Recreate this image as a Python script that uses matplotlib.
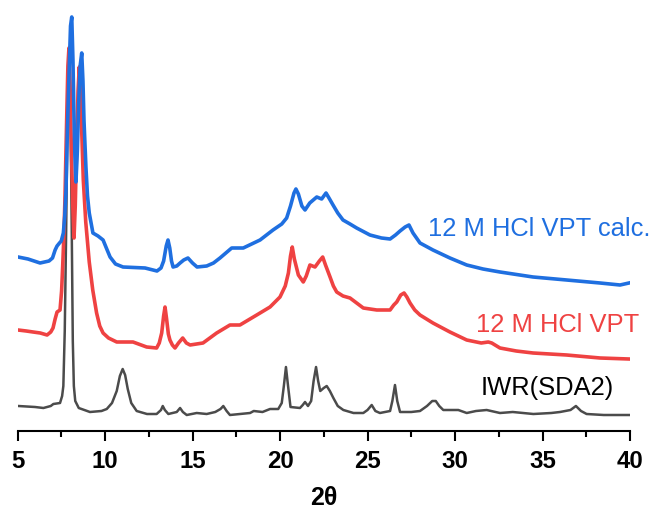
import matplotlib
matplotlib.use("Agg")
import matplotlib.pyplot as plt
from matplotlib.ticker import MultipleLocator

plt.rcParams['font.family'] = ['Liberation Sans', 'DejaVu Sans']

# Stacked XRD patterns (2-theta in degrees, offset intensity in arbitrary units)
calc_2theta = [5.03, 5.6, 6.29, 6.8, 7.0, 7.15, 7.26, 7.4, 7.5, 7.62, 7.7, 7.77, 7.85, 7.95,
               8.03, 8.1, 8.17, 8.22, 8.28, 8.34, 8.42, 8.5, 8.58, 8.67, 8.74, 8.8, 8.91,
               9.0, 9.1, 9.31, 9.6, 9.89, 10.1, 10.29, 10.6, 11.03, 12.29, 12.97, 13.2,
               13.35, 13.5, 13.6, 13.7, 13.8, 13.89, 14.1, 14.29, 14.5, 14.74, 15.0, 15.26,
               15.81, 16.2, 16.57, 17.24, 17.9, 18.86, 19.6, 20.1, 20.38, 20.6, 20.8, 20.91,
               21.05, 21.25, 21.43, 21.7, 22.1, 22.38, 22.63, 22.8, 23.03, 23.3, 23.6, 24.0,
               24.38, 25.14, 25.8, 26.29, 26.6, 26.86, 27.15, 27.37, 27.6, 28.0, 28.74,
               29.71, 30.67, 31.6, 32.57, 34.46, 36.38, 38.29, 39.43, 39.94]
calc_int = [174, 172, 168, 170, 173, 181, 185, 188, 190, 198, 215, 240, 300, 360,
            405, 414, 370, 321, 275, 249, 280, 330, 365, 378, 350, 310, 264,
            235, 218, 198, 195, 191, 182, 174, 167, 164, 163, 160, 163,
            170, 185, 191, 183, 170, 164, 165, 168, 171, 173, 168, 164,
            165, 168, 173, 183, 183, 191, 201, 207, 213, 225, 238, 242,
            237, 225, 221, 228, 234, 232, 238, 233, 226, 218, 211, 207,
            203, 196, 193, 192, 196, 200, 204, 206, 198, 188, 181,
            173, 166, 162, 159, 154, 151, 148, 146, 148]

vpt_2theta = [5.03, 5.5, 5.89, 6.3, 6.69, 6.9, 7.03, 7.15, 7.26, 7.43, 7.52, 7.58, 7.65,
              7.71, 7.77, 7.82, 7.88, 7.94, 8.0, 8.08, 8.16, 8.23, 8.3, 8.38, 8.46, 8.53,
              8.6, 8.65, 8.76, 8.9, 9.1, 9.3, 9.52, 9.7, 9.89, 10.2, 10.67, 11.6, 12.38,
              12.95, 13.1, 13.24, 13.35, 13.43, 13.52, 13.62, 13.71, 13.85, 14.0, 14.2,
              14.44, 14.65, 14.86, 15.6, 16.38, 17.14, 17.71, 18.67, 19.43, 20.0, 20.3,
              20.48, 20.6, 20.7, 20.82, 21.05, 21.33, 21.5, 21.71, 22.0, 22.25, 22.44,
              22.6, 22.86, 23.05, 23.24, 23.6, 24.0, 24.76, 25.53, 26.29, 26.5, 26.67,
              26.9, 27.09, 27.25, 27.43, 27.7, 28.0, 28.74, 29.71, 30.67, 31.5, 31.9,
              32.1, 32.57, 33.5, 34.46, 36.38, 38.29, 39.94]
vpt_int = [101, 100, 99, 98, 96, 99, 103, 112, 119, 121, 140, 164, 195,
           231, 280, 320, 365, 383, 350, 281, 225, 193, 225, 285, 340, 364,
           345, 311, 251, 209, 169, 141, 118, 105, 98, 93, 89, 89, 84,
           83, 88, 98, 115, 124, 112, 97, 91, 86, 83, 88,
           93, 88, 86, 88, 98, 106, 106, 116, 124, 134, 145,
           158, 175, 184, 172, 156, 149, 155, 166, 164, 170, 174,
           166, 154, 145, 139, 135, 133, 123, 121, 121, 126, 129,
           136, 138, 134, 128, 121, 116, 108, 99, 91, 88, 89,
           88, 83, 80, 78, 76, 73, 72]

iwr_2theta = [5.05, 6.0, 6.48, 6.9, 7.05, 7.43, 7.55, 7.62, 7.7, 7.78, 7.86, 7.95, 8.03,
              8.1, 8.16, 8.22, 8.3, 8.5, 9.14, 9.8, 10.1, 10.4, 10.67, 10.85, 11.01,
              11.15, 11.3, 11.5, 11.81, 12.4, 12.95, 13.2, 13.3, 13.42, 13.62, 14.1,
              14.29, 14.45, 14.67, 15.24, 15.81, 16.3, 16.6, 16.76, 16.95, 17.14, 18.29,
              18.5, 19.0, 19.43, 19.9, 20.1, 20.22, 20.34, 20.46, 20.6, 21.14, 21.3,
              21.43, 21.6, 21.78, 21.92, 22.06, 22.18, 22.3, 22.5, 22.67, 22.85, 23.05,
              23.3, 23.62, 24.2, 24.76, 25.0, 25.24, 25.45, 25.71, 26.29, 26.42, 26.57,
              26.7, 26.86, 27.5, 28.0, 28.4, 28.7, 28.9, 29.1, 29.33, 30.19, 30.67,
              31.2, 31.81, 32.57, 33.3, 34.48, 35.5, 36.0, 36.6, 36.91, 37.2, 37.52,
              38.5, 39.96]
iwr_int = [25, 24, 23, 25, 27, 28, 35, 45, 100, 200, 320, 376, 320,
           200, 90, 45, 30, 23, 19, 20, 22, 28, 40, 55, 62,
           56, 42, 28, 20, 17, 17, 21, 25, 21, 17, 19,
           23, 19, 16, 18, 17, 19, 22, 25, 20, 16, 18,
           20, 19, 22, 22, 28, 45, 64, 45, 24, 23, 26,
           29, 25, 30, 50, 64, 50, 40, 43, 45, 40, 33,
           25, 21, 18, 18, 21, 26, 20, 18, 20, 30, 46,
           30, 19, 19, 20, 25, 30, 30, 25, 21, 21, 18,
           20, 21, 18, 19, 17, 18, 19, 21, 25, 20, 17,
           16, 16]

x_ticks = [5, 10, 15, 20, 25, 30, 35, 40]

blue = '#1f6fe0'
red = '#ef4242'
grey = '#4b4b4b'

fig = plt.figure(figsize=(6.51, 5.18), dpi=100)
ax = fig.add_axes([17.5 / 651, 87 / 518, (630 - 17.5) / 651, 431 / 518])

ax.plot(iwr_2theta, iwr_int, color=grey, lw=1.8, solid_joinstyle='round')
ax.plot(vpt_2theta, vpt_int, color=red, lw=2.6, solid_joinstyle='round')
ax.plot(calc_2theta, calc_int, color=blue, lw=2.6, solid_joinstyle='round')

ax.text(28.46, 195, '12 M HCl VPT calc.', color=blue, fontsize=18.4, va='baseline', ha='left')
ax.text(31.2, 99, '12 M HCl VPT', color=red, fontsize=18.4, va='baseline', ha='left')
ax.text(31.49, 36, 'IWR(SDA2)', color='black', fontsize=18.4, va='baseline', ha='left')

ax.set_xlim(5, 40)
ax.set_ylim(0, 431)
ax.set_xticks(x_ticks)
ax.xaxis.set_minor_locator(MultipleLocator(2.5))
ax.set_yticks([])
for side in ('left', 'right', 'top'):
    ax.spines[side].set_visible(False)
ax.spines['bottom'].set_linewidth(1.5)
ax.tick_params(axis='x', which='major', direction='out', length=7, width=1.5,
               pad=7, labelsize=17.3)
ax.tick_params(axis='x', which='minor', direction='out', length=4, width=1.5)
for lbl in ax.get_xticklabels():
    lbl.set_fontweight('bold')
ax.set_xlabel('2θ', fontsize=18, fontweight='bold', labelpad=9)

fig.savefig('out.png', dpi=100)
